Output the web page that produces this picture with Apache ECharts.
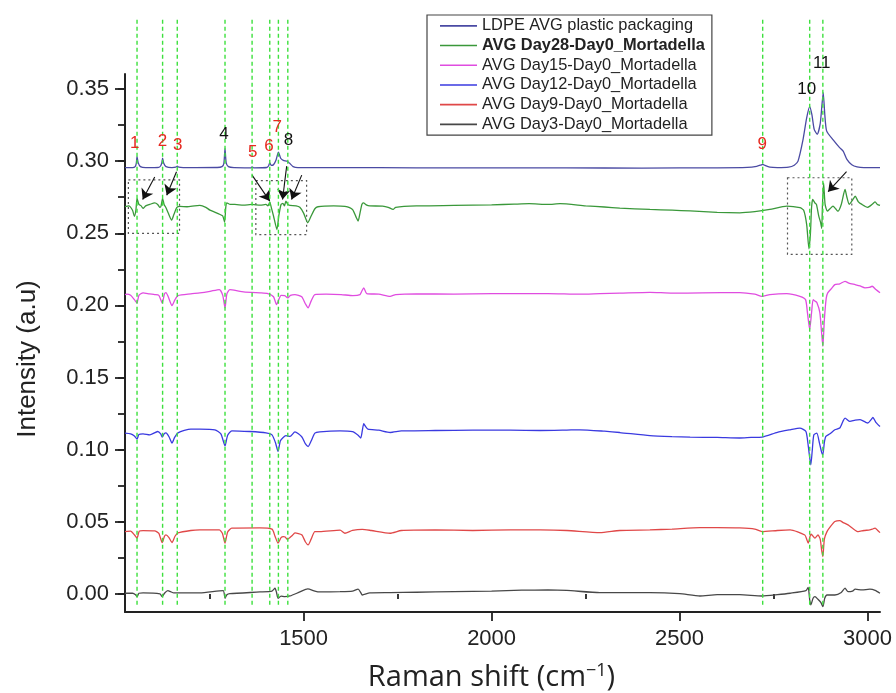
<!DOCTYPE html>
<html><head><meta charset="utf-8">
<script src="https://cdn.jsdelivr.net/npm/echarts@6/dist/echarts.min.js"></script>
<style>html,body{margin:0;padding:0;background:#fff}#c{width:896px;height:693px}</style>
</head><body><div id="c"></div>
<script>
// ---------- data ----------
const seriesNames = ['LDPE AVG plastic packaging','AVG Day28-Day0_Mortadella','AVG Day15-Day0_Mortadella','AVG Day12-Day0_Mortadella','AVG Day9-Day0_Mortadella','AVG Day3-Day0_Mortadella'];
const ldpe = [[1025,0.2955],[1045,0.2955],[1052,0.2962],[1055,0.2985],[1057,0.3031],[1060,0.2990],[1066,0.2962],[1080,0.2955],[1115,0.2957],[1120,0.2968],[1123,0.2990],[1125,0.3020],[1128,0.2985],[1134,0.2962],[1150,0.2955],[1160,0.2958],[1164,0.2966],[1168,0.2958],[1180,0.2955],[1270,0.2956],[1283,0.2962],[1288,0.2985],[1291,0.3088],[1294,0.2990],[1300,0.2962],[1315,0.2955],[1360,0.2954],[1363,0.2960],[1367,0.2954],[1402,0.2956],[1407,0.2968],[1410,0.2990],[1414,0.2970],[1420,0.2975],[1427,0.3010],[1433,0.3063],[1439,0.3020],[1446,0.3005],[1456,0.3000],[1463,0.2985],[1472,0.2962],[1485,0.2955],[1600,0.2955],[1800,0.2954],[2000,0.2954],[2200,0.2953],[2400,0.2952],[2600,0.2954],[2680,0.2957],[2705,0.2964],[2716,0.2973],[2721,0.2978],[2727,0.2970],[2740,0.2958],[2760,0.2955],[2790,0.2958],[2805,0.2972],[2815,0.3000],[2828,0.3145],[2838,0.3300],[2846,0.3378],[2852,0.3320],[2858,0.3220],[2866,0.3186],[2874,0.3260],[2879,0.3400],[2882,0.3475],[2886,0.3330],[2891,0.3210],[2909,0.3145],[2925,0.3095],[2935,0.3070],[2945,0.3012],[2958,0.2975],[2972,0.2960],[2990,0.2955],[3033,0.2955]];
const day28 = [[1025,0.2684],[1035,0.2690],[1045,0.2660],[1050,0.2618],[1054,0.2660],[1057,0.2741],[1062,0.2700],[1068,0.2690],[1073,0.2672],[1080,0.2690],[1091,0.2700],[1104,0.2711],[1112,0.2700],[1118,0.2679],[1121,0.2690],[1125,0.2741],[1129,0.2700],[1134,0.2677],[1140,0.2640],[1149,0.2591],[1155,0.2630],[1163,0.2679],[1171,0.2686],[1190,0.2684],[1210,0.2690],[1224,0.2693],[1240,0.2680],[1251,0.2660],[1265,0.2645],[1278,0.2630],[1285,0.2620],[1290,0.2577],[1293,0.2680],[1296,0.2711],[1305,0.2700],[1317,0.2700],[1340,0.2695],[1362,0.2700],[1385,0.2695],[1400,0.2700],[1405,0.2690],[1410,0.2716],[1414,0.2680],[1420,0.2620],[1429,0.2526],[1434,0.2620],[1440,0.2700],[1445,0.2707],[1449,0.2690],[1453,0.2723],[1458,0.2700],[1464,0.2693],[1480,0.2690],[1490,0.2680],[1500,0.2640],[1511,0.2573],[1520,0.2620],[1530,0.2670],[1538,0.2684],[1580,0.2690],[1610,0.2686],[1630,0.2665],[1640,0.2610],[1645,0.2584],[1650,0.2640],[1655,0.2700],[1659,0.2711],[1668,0.2695],[1676,0.2690],[1710,0.2688],[1725,0.2680],[1738,0.2665],[1745,0.2680],[1800,0.2690],[1900,0.2693],[2000,0.2697],[2060,0.2702],[2100,0.2705],[2150,0.2700],[2182,0.2705],[2250,0.2690],[2300,0.2682],[2341,0.2675],[2421,0.2665],[2480,0.2660],[2528,0.2655],[2600,0.2645],[2660,0.2642],[2700,0.2650],[2740,0.2665],[2785,0.2688],[2820,0.2677],[2830,0.2660],[2838,0.2560],[2844,0.2392],[2848,0.2500],[2851,0.2680],[2854,0.2734],[2860,0.2710],[2864,0.2700],[2870,0.2620],[2875,0.2575],[2878,0.2533],[2880,0.2700],[2883,0.2850],[2887,0.2700],[2893,0.2653],[2900,0.2670],[2908,0.2688],[2915,0.2670],[2921,0.2653],[2930,0.2700],[2940,0.2804],[2945,0.2750],[2951,0.2700],[2960,0.2730],[2967,0.2757],[2975,0.2720],[2985,0.2700],[3000,0.2680],[3006,0.2688],[3014,0.2705],[3020,0.2717],[3026,0.2700],[3033,0.2693]];
const day15 = [[1025,0.2075],[1030,0.2078],[1040,0.2070],[1050,0.2040],[1057,0.2017],[1062,0.2070],[1073,0.2087],[1090,0.2080],[1104,0.2075],[1115,0.2070],[1124,0.2017],[1130,0.2080],[1134,0.2089],[1140,0.2060],[1150,0.1999],[1158,0.2040],[1166,0.2068],[1200,0.2080],[1224,0.2087],[1251,0.2098],[1276,0.2110],[1285,0.2070],[1291,0.1983],[1296,0.2080],[1304,0.2110],[1331,0.2098],[1360,0.2090],[1384,0.2087],[1405,0.2082],[1420,0.2060],[1428,0.2006],[1434,0.2040],[1440,0.2070],[1450,0.2068],[1458,0.2052],[1465,0.2070],[1477,0.2075],[1495,0.2060],[1505,0.2010],[1512,0.1983],[1520,0.2030],[1530,0.2075],[1560,0.2078],[1600,0.2075],[1631,0.2068],[1650,0.2075],[1655,0.2100],[1660,0.2122],[1668,0.2082],[1700,0.2078],[1730,0.2063],[1745,0.2075],[1800,0.2080],[1900,0.2078],[2000,0.2082],[2100,0.2082],[2150,0.2082],[2235,0.2078],[2288,0.2082],[2341,0.2085],[2421,0.2091],[2480,0.2085],[2560,0.2087],[2660,0.2089],[2700,0.2078],[2719,0.2063],[2740,0.2075],[2785,0.2082],[2820,0.2063],[2835,0.2040],[2840,0.1950],[2846,0.1832],[2851,0.1950],[2855,0.2040],[2860,0.2030],[2865,0.2020],[2873,0.1950],[2878,0.1800],[2881,0.1716],[2885,0.1900],[2890,0.2050],[2894,0.2087],[2905,0.2120],[2913,0.2144],[2926,0.2150],[2940,0.2167],[2950,0.2155],[2967,0.2144],[2980,0.2135],[2993,0.2122],[3005,0.2125],[3012,0.2133],[3022,0.2110],[3033,0.2088]];
const day12 = [[1025,0.1115],[1040,0.1110],[1050,0.1095],[1057,0.1074],[1062,0.1105],[1073,0.1110],[1091,0.1103],[1112,0.1126],[1120,0.1110],[1124,0.1088],[1129,0.1110],[1134,0.1117],[1142,0.1090],[1150,0.1046],[1157,0.1085],[1166,0.1117],[1200,0.1143],[1224,0.1143],[1264,0.1138],[1280,0.1110],[1291,0.1027],[1298,0.1100],[1309,0.1131],[1357,0.1126],[1400,0.1117],[1416,0.1103],[1425,0.1050],[1432,0.0988],[1438,0.1060],[1445,0.1083],[1453,0.1097],[1464,0.1092],[1477,0.1124],[1495,0.1090],[1505,0.1040],[1512,0.1022],[1520,0.1060],[1530,0.1115],[1543,0.1124],[1597,0.1131],[1630,0.1125],[1645,0.1100],[1652,0.1081],[1656,0.1130],[1660,0.1180],[1665,0.1160],[1671,0.1143],[1700,0.1135],[1730,0.1119],[1760,0.1130],[1850,0.1133],[1950,0.1135],[2050,0.1135],[2129,0.1133],[2200,0.1136],[2235,0.1138],[2300,0.1128],[2341,0.1119],[2421,0.1097],[2480,0.1090],[2528,0.1087],[2600,0.1085],[2660,0.1081],[2690,0.1085],[2719,0.1087],[2760,0.1120],[2794,0.1138],[2820,0.1150],[2836,0.1126],[2842,0.1030],[2849,0.0895],[2853,0.1000],[2857,0.1103],[2865,0.1115],[2872,0.1046],[2878,0.0980],[2881,0.0965],[2885,0.1050],[2889,0.1092],[2900,0.1110],[2913,0.1138],[2926,0.1150],[2935,0.1200],[2940,0.1219],[2953,0.1196],[2967,0.1205],[2980,0.1208],[2995,0.1190],[3001,0.1185],[3010,0.1210],[3014,0.1224],[3022,0.1190],[3033,0.1161]];
const day9 = [[1025,0.0432],[1040,0.0435],[1050,0.0410],[1057,0.0387],[1063,0.0435],[1073,0.0439],[1104,0.0437],[1115,0.0420],[1124,0.0356],[1130,0.0400],[1134,0.0409],[1142,0.0390],[1150,0.0356],[1158,0.0400],[1166,0.0423],[1200,0.0440],[1224,0.0444],[1276,0.0444],[1284,0.0420],[1291,0.0352],[1298,0.0430],[1309,0.0456],[1384,0.0458],[1416,0.0449],[1424,0.0400],[1432,0.0352],[1440,0.0390],[1446,0.0398],[1451,0.0395],[1457,0.0378],[1463,0.0390],[1470,0.0405],[1477,0.0423],[1495,0.0410],[1505,0.0360],[1512,0.0340],[1520,0.0380],[1530,0.0432],[1543,0.0432],[1597,0.0442],[1610,0.0421],[1630,0.0440],[1656,0.0448],[1680,0.0440],[1730,0.0421],[1760,0.0440],[1850,0.0444],[1950,0.0440],[2050,0.0444],[2129,0.0444],[2200,0.0440],[2288,0.0425],[2341,0.0440],[2421,0.0444],[2480,0.0450],[2554,0.0460],[2600,0.0460],[2660,0.0458],[2700,0.0450],[2719,0.0432],[2760,0.0440],[2794,0.0444],[2833,0.0409],[2838,0.0380],[2842,0.0352],[2847,0.0400],[2850,0.0414],[2860,0.0387],[2868,0.0409],[2874,0.0380],[2878,0.0300],[2881,0.0259],[2885,0.0380],[2892,0.0432],[2902,0.0470],[2913,0.0502],[2926,0.0509],[2935,0.0495],[2948,0.0479],[2960,0.0455],[2975,0.0432],[2990,0.0440],[3006,0.0444],[3015,0.0452],[3020,0.0456],[3027,0.0440],[3033,0.0425]];
const day3 = [[1025,0.0005],[1045,0.0005],[1053,-0.0005],[1057,-0.0019],[1062,0.0005],[1073,0.0007],[1118,0.0000],[1124,-0.0019],[1130,0.0005],[1139,0.0023],[1146,0.0016],[1155,0.0007],[1224,0.0007],[1286,0.0023],[1291,-0.0030],[1296,-0.0005],[1304,0.0002],[1384,0.0014],[1416,0.0020],[1424,0.0040],[1428,0.0010],[1432,-0.0030],[1440,-0.0015],[1450,-0.0019],[1464,-0.0014],[1490,0.0014],[1511,0.0035],[1530,0.0020],[1543,0.0014],[1597,0.0016],[1630,0.0020],[1645,0.0033],[1652,0.0010],[1656,-0.0007],[1676,0.0007],[1730,0.0009],[1800,0.0012],[1900,0.0016],[2000,0.0020],[2080,0.0026],[2150,0.0028],[2200,0.0025],[2288,0.0009],[2341,0.0009],[2421,0.0009],[2500,0.0002],[2554,-0.0014],[2600,-0.0005],[2660,-0.0005],[2719,-0.0014],[2760,-0.0005],[2794,0.0005],[2836,0.0023],[2842,0.0046],[2846,-0.0040],[2849,-0.0076],[2855,-0.0030],[2860,-0.0019],[2868,-0.0037],[2876,-0.0060],[2881,-0.0088],[2886,-0.0030],[2892,-0.0007],[2913,-0.0007],[2930,0.0010],[2940,0.0040],[2948,0.0016],[2960,0.0020],[2967,0.0033],[2985,0.0028],[3006,0.0033],[3020,0.0025],[3033,0.0005]];

// annotation data
const peakLineWn = [1057,1125,1164,1291,1363,1410,1433,1458,2721,2846,2881];
const peakLabels = ['1','2','3','4','5','6','7','8','9','10','11'];
const peakLabelWn = [1051,1125,1165,1288,1365,1408,1430,1460,2720,2838,2878];
const peakLabelY = [0.3123,0.3139,0.3111,0.3185,0.3058,0.3104,0.3232,0.3144,0.3116,0.3498,0.3676];
const peakLabelRed = [true,true,true,false,true,true,true,false,true,false,false];
const boxes = [[1034,0.2870,1170,0.2500],[1373,0.2865,1508,0.2491],[2787,0.2885,2958,0.2354]];
const arrows = [[1104,0.2890,1072,0.2734],[1162,0.2927,1136,0.2764],[1363,0.2903,1410,0.2723],[1455,0.2965,1444,0.2734],[1495,0.2903,1468,0.2734],[2944,0.2927,2895,0.2788]];
const xMajorTicks = [1500,2000,2500,3000];
const xMinorTicks = [1250,1750,2250,2750];
const yMajorTicks = [0,0.05,0.10,0.15,0.20,0.25,0.30,0.35];
const yAllTicks = [0,0.025,0.05,0.075,0.10,0.125,0.15,0.175,0.20,0.225,0.25,0.275,0.30,0.325,0.35];

// ---------- chart ----------
const colors = ['#4a4aa3','#3a983a','#e04ce0','#3a3ae0','#e04848','#484848'];
const FONT = "'Liberation Sans', Arial, sans-serif";
const chart = echarts.init(document.getElementById('c'));

const lineSeries = [ldpe, day28, day15, day12, day9, day3].map((d, i) => ({
  name: seriesNames[i], type: 'line', data: d, showSymbol: false, symbol: 'none',
  smooth: 0.2, lineStyle: {width: 1.3, color: colors[i]}, itemStyle: {color: colors[i]},
  z: 2, silent: true, animation: false
}));

lineSeries[1].markArea = {
  silent: true,
  itemStyle: {color: 'rgba(0,0,0,0)', borderColor: '#555', borderWidth: 1.2, borderType: [2, 3]},
  data: boxes.map(b => [{coord: [b[0], b[1]]}, {coord: [b[2], b[3]]}])
};
lineSeries[1].markLine = {
  silent: true, symbol: ['none', 'arrow'], symbolSize: 10,
  label: {show: false}, lineStyle: {color: '#111', width: 1.1, type: 'solid'},
  data: arrows.map(a => [{coord: [a[0], a[1]]}, {coord: [a[2], a[3]]}])
};

const option = {
  backgroundColor: '#fff',
  animation: false,
  grid: {left: 125, right: 16, top: 74, bottom: 81, containLabel: false, outerBoundsMode: 'none'},
  legend: {
    orient: 'vertical', left: 427, top: 15,
    icon: 'rect', itemWidth: 37, itemHeight: 1.6, itemGap: 0,
    padding: [1, 7, 1, 13],
    borderColor: '#444', borderWidth: 1.2,
    textStyle: {fontFamily: FONT, fontSize: 16.4, color: '#222', lineHeight: 19.7},
    selectedMode: false,
    data: seriesNames.map((n, i) => i === 1 ? {name: n, textStyle: {fontWeight: 'bold'}} : {name: n})
  },
  xAxis: [{
    type: 'value', min: 1025, max: 3033,
    name: 'Raman shift (cm{sup|−1})', nameLocation: 'middle', nameGap: 50,
    nameTextStyle: {fontFamily: "'Open Sans', sans-serif", fontSize: 29, color: '#222', padding: [0, 22, 0, 0],
      rich: {sup: {fontFamily: "'Open Sans', sans-serif", fontSize: 18, color: '#222', verticalAlign: 'top', padding: [0, 0, 14, 0]}}},
    splitLine: {show: false},
    axisLine: {show: true, onZero: false, lineStyle: {color: '#222', width: 2}},
    axisTick: {show: true, inside: false, length: 9, customValues: xMajorTicks, lineStyle: {color: '#222', width: 1.8}},
    axisLabel: {customValues: xMajorTicks, margin: 16, fontFamily: FONT, fontSize: 22, color: '#222',
      formatter: v => String(v)}
  }, {
    type: 'value', min: 1025, max: 3033, position: 'bottom',
    splitLine: {show: false}, axisLine: {show: false},
    axisTick: {show: true, length: 5, customValues: xMinorTicks, lineStyle: {color: '#222', width: 1.8}},
    axisLabel: {show: false}
  }],
  yAxis: [{
    type: 'value', min: -0.0125, max: 0.3604,
    name: 'Intensity (a.u)', nameLocation: 'middle', nameGap: 84, nameRotate: 90,
    nameTextStyle: {fontFamily: FONT, fontSize: 26, color: '#222', padding: [0, 32, 0, 0]},
    splitLine: {show: false},
    axisLine: {show: true, onZero: false, lineStyle: {color: '#222', width: 2}},
    axisTick: {show: true, length: 7, customValues: yAllTicks, lineStyle: {color: '#222', width: 1.8}},
    axisLabel: {customValues: yMajorTicks, margin: 16, fontFamily: FONT, fontSize: 22, color: '#222',
      formatter: v => v.toFixed(2)}
  }, {
    type: 'value', min: -0.0125, max: 0.3604, position: 'left',
    splitLine: {show: false}, axisLine: {show: false},
    axisTick: {show: true, length: 10, customValues: yMajorTicks, lineStyle: {color: '#222', width: 1.8}},
    axisLabel: {show: false}
  }],
  series: [
    ...lineSeries,
    {
      type: 'custom', name: 'peakLines', clip: false, silent: true, z: 5,
      data: peakLineWn.map(w => [w]),
      renderItem: (params, api) => {
        const x = api.value(0);
        const p1 = api.coord([x, 0.398]);
        const p2 = api.coord([x, -0.008]);
        return {type: 'line', shape: {x1: p1[0], y1: p1[1], x2: p2[0], y2: p2[1]},
          style: {stroke: '#3ee03e', lineWidth: 1.4, lineDash: [4, 3]}};
      }
    },
    {
      type: 'custom', name: 'peakLabels', clip: false, silent: true, z: 6,
      data: peakLabels.map((t, i) => [peakLabelWn[i], peakLabelY[i], i]),
      renderItem: (params, api) => {
        const p = api.coord([api.value(0), api.value(1)]);
        const i = api.value(2);
        return {type: 'text', x: p[0], y: p[1],
          style: {text: peakLabels[i], fill: peakLabelRed[i] ? '#e62a20' : '#111',
            fontFamily: FONT, fontSize: 17, align: 'center', verticalAlign: 'middle'}};
      }
    }
  ]
};
chart.setOption(option);
</script></body></html>
